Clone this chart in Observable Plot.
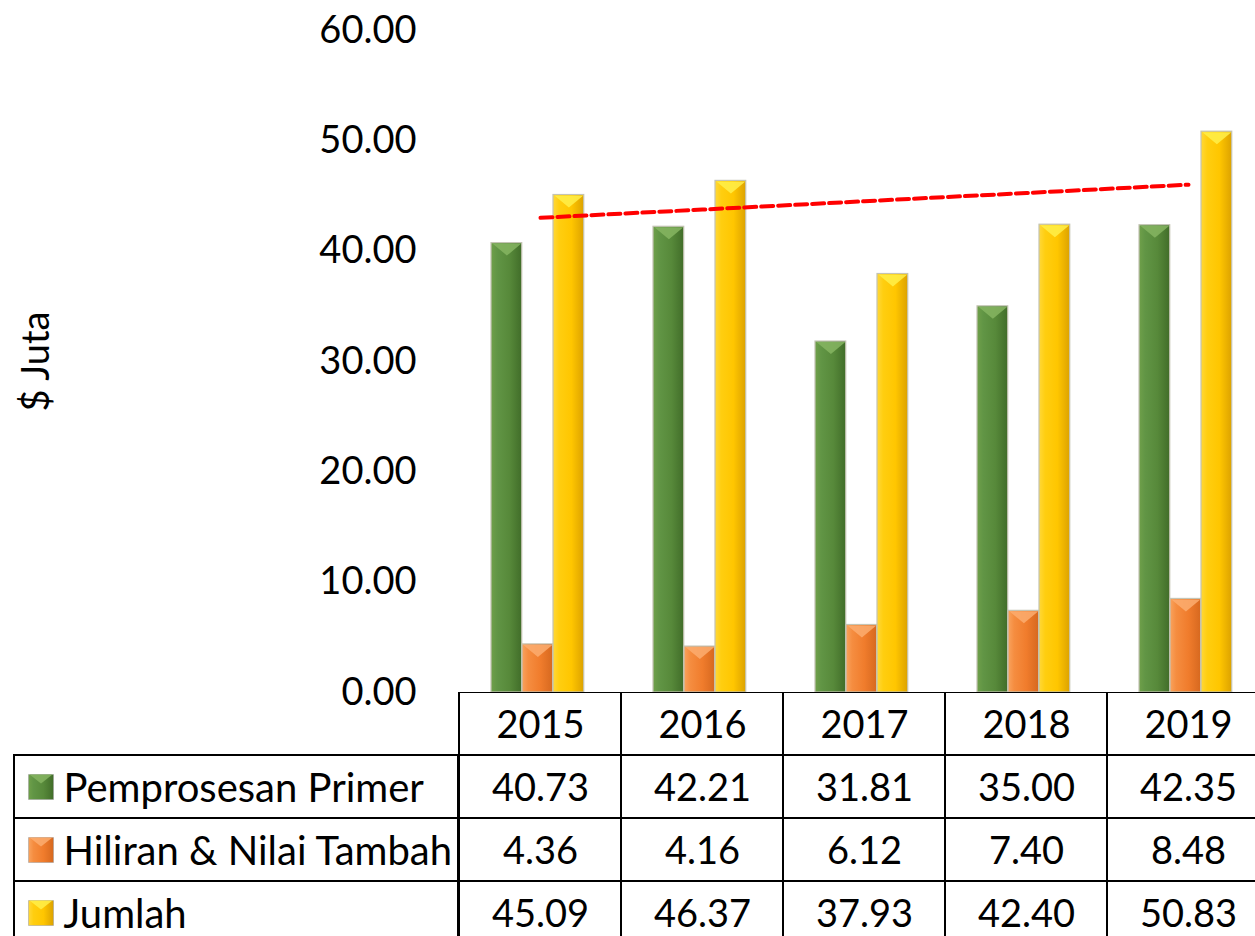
<!DOCTYPE html>
<html><head><meta charset="utf-8">
<script src="https://cdn.jsdelivr.net/npm/d3@7"></script>
<script src="https://cdn.jsdelivr.net/npm/@observablehq/plot@0.6"></script>
<style>
body{margin:0;background:#fff;}
#chart{width:1255px;height:936px;position:relative;overflow:hidden;background:#fff;}
#chart svg{display:block;}
</style></head><body><div id="chart"></div>
<script>
const years = ["2015","2016","2017","2018","2019"];
const seriesNames = ["Pemprosesan Primer","Hiliran & Nilai Tambah","Jumlah"];
const primer  = [40.73, 42.21, 31.81, 35.00, 42.35];
const hiliran = [4.36, 4.16, 6.12, 7.40, 8.48];
const jumlah  = [45.09, 46.37, 37.93, 42.40, 50.83];
const yTicks = [0, 10, 20, 30, 40, 50, 60];
const yLabel = "$ Juta";
const headerKey = "";

const seriesValues = [primer, hiliran, jumlah];
const gradIds = ["g-green", "g-orange", "g-yellow"];
const gradStops = [
  [["0", "#6fa04a"], ["0.2", "#619545"], ["0.6", "#57893a"], ["1", "#416d29"]],
  [["0", "#f9a35e"], ["0.2", "#f58d40"], ["0.6", "#f07c2c"], ["1", "#d6681f"]],
  [["0", "#ffd83a"], ["0.2", "#ffce10"], ["0.6", "#ffc600"], ["1", "#dca200"]]
];
const bevelColors = ["#86b562", "#fbad70", "#fff04a"];

const W = 1255, LEFT = 458, RIGHT_EDGE = 1269.3;
const BW = (RIGHT_EDGE - LEFT) / years.length;
const BAR_W = 31;
const OFF = 32;
const FONT = "Lato, 'Noto Sans', sans-serif";
const FS = 38;

const bevel = (w, h) => ({draw(ctx) {
  ctx.moveTo(-w / 2, -h / 2); ctx.lineTo(w / 2, -h / 2); ctx.lineTo(0, h / 2); ctx.closePath();
}});

const barData = seriesValues.map((vals, i) => years.map((y, j) => ({year: y, value: vals[j]})));

// Excel-style linear trendline of Jumlah
const xs = years.map((_, j) => j);
const mx = d3.mean(xs), my = d3.mean(jumlah);
const slope = d3.sum(xs, (x, j) => (x - mx) * (jumlah[j] - my)) / d3.sum(xs, x => (x - mx) ** 2);
const trend = years.map((y, j) => ({year: y, value: my + slope * (j - mx)}));

const chart = Plot.plot({
  width: W, height: 692,
  marginLeft: LEFT, marginRight: W - RIGHT_EDGE, marginTop: 30, marginBottom: 0,
  style: {fontFamily: FONT, fontSize: FS + "px", overflow: "visible", background: "transparent", color: "black"},
  x: {type: "band", domain: years, padding: 0, axis: null},
  y: {domain: [0, 60], axis: null},
  marks: [
    ...barData.map((d, i) => Plot.barY(d, {
      x: "year", y: "value",
      fill: `url(#${gradIds[i]})`, stroke: "#c4c4b4", strokeWidth: 1.2,
      insetLeft: OFF + i * BAR_W, insetRight: BW - OFF - (i + 1) * BAR_W
    })),
    ...barData.map((d, i) => Plot.dot(d, {
      x: "year", y: "value", symbol: bevel(BAR_W - 2, 12), r: 1,
      fill: bevelColors[i], fillOpacity: 0.85, stroke: "none",
      dx: OFF + i * BAR_W + BAR_W / 2 - BW / 2, dy: 6.5
    })),
    Plot.line(trend, {x: "year", y: "value", stroke: "#ff0000", strokeWidth: 4, strokeDasharray: "12,5"}),
    Plot.text(yTicks, {y: d => d, text: d => d3.format(".2f")(d), frameAnchor: "left", textAnchor: "end", dx: -42, fill: "black"}),
    Plot.text([yLabel], {text: d => d, frameAnchor: "left", textAnchor: "middle", rotate: -90, dx: -422, fill: "black"})
  ]
});

const rowKeys = [headerKey, ...seriesNames];
const cellData = rowKeys.flatMap((r, ri) => years.map((y, j) => ({
  row: r, year: y,
  text: ri === 0 ? y : d3.format(".2f")(seriesValues[ri - 1][j])
})));

const table = Plot.plot({
  width: W, height: 244,
  marginLeft: LEFT, marginRight: W - RIGHT_EDGE, marginTop: 0, marginBottom: -8,
  style: {fontFamily: FONT, fontSize: FS + "px", background: "transparent", color: "black"},
  x: {type: "band", domain: years, padding: 0, axis: null},
  y: {type: "band", domain: rowKeys, padding: 0, axis: null},
  marks: [
    Plot.cell(cellData, {x: "year", y: "row", fill: "none", stroke: "black", strokeWidth: 2}),
    Plot.cell(seriesNames, {y: d => d, fill: "none", stroke: "black", strokeWidth: 2,
      insetLeft: -(LEFT - 14), insetRight: RIGHT_EDGE - LEFT}),
    Plot.text(cellData, {x: "year", y: "row", text: "text", fill: "black", dy: 2}),
    Plot.text(seriesNames, {y: d => d, text: d => d, frameAnchor: "left", textAnchor: "start",
      dx: -(LEFT - 63), dy: 2, fontSize: 40, fill: "black"}),
    ...seriesNames.map((s, i) => Plot.dot([s], {y: d => d, frameAnchor: "left", dx: -(LEFT - 40.5),
      symbol: "square", r: 25 / Math.sqrt(Math.PI), fill: `url(#${gradIds[i]})`, stroke: "#999", strokeWidth: 0.5})),
    ...seriesNames.map((s, i) => Plot.dot([s], {y: d => d, frameAnchor: "left", dx: -(LEFT - 40.5), dy: -8,
      symbol: bevel(23, 9), r: 1, fill: bevelColors[i], fillOpacity: 0.85, stroke: "none"}))
  ]
});

const defs = d3.select(chart).insert("defs", ":first-child");
gradIds.forEach((id, i) => {
  const g = defs.append("linearGradient").attr("id", id).attr("x1", 0).attr("x2", 1).attr("y1", 0).attr("y2", 0);
  gradStops[i].forEach(([o, c]) => g.append("stop").attr("offset", o).attr("stop-color", c));
});

document.getElementById("chart").append(chart, table);
</script></body></html>
